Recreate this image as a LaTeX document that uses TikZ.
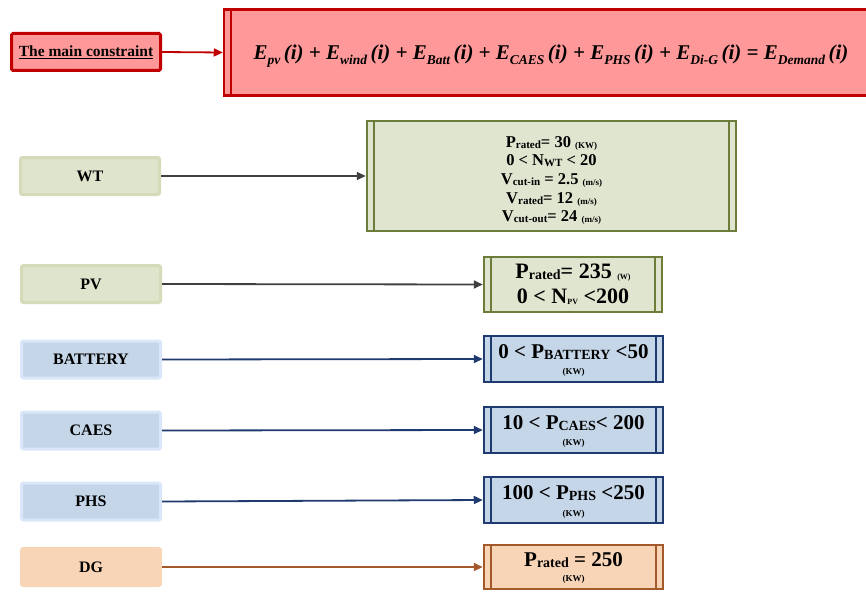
\documentclass[tikz,border=0pt]{standalone}
\usepackage{fontspec}
\setmainfont{Liberation Serif}
\usetikzlibrary{arrows.meta}
\definecolor{dred}{HTML}{C00000}
\definecolor{pinkf}{HTML}{FF9999}
\definecolor{olive}{HTML}{6B7D38}
\definecolor{olivef}{HTML}{E0E5CF}
\definecolor{wtb}{HTML}{D3DBB9}
\definecolor{wtf}{HTML}{DFE4CC}
\definecolor{navy}{HTML}{1F3A6E}
\definecolor{bluef}{HTML}{C5D6E8}
\definecolor{blueb}{HTML}{DAE6F9}
\definecolor{brn}{HTML}{A3592A}
\definecolor{dgf}{HTML}{F8D5B6}
\definecolor{arrg}{HTML}{404040}
\newcommand{\lsub}[2]{\raisebox{-1pt}{\fontsize{#1}{#1}\selectfont #2}}
\newcommand{\esub}[1]{\raisebox{-4.5pt}{\fontsize{13.5}{13.5}\selectfont #1}}
\tikzset{
  x=1pt, y=-1pt,
  srcbox/.style={rounded corners=2pt, line width=3pt, inner sep=0pt,
    font=\bfseries\fontsize{16}{18}\selectfont, minimum width=139pt, minimum height=37pt},
  parbox/.style={line width=2.5pt, inner sep=0pt, align=center,
    path picture={\draw[line width=1.5pt,#1]
      ([xshift=7pt]path picture bounding box.north west) -- ([xshift=7pt]path picture bounding box.south west)
      ([xshift=-7pt]path picture bounding box.north east) -- ([xshift=-7pt]path picture bounding box.south east);}},
  conn/.style={line width=1.8pt, -{Triangle[length=9pt,width=8pt]}},
  kw/.style={font=\bfseries\fontsize{9}{9}\selectfont},
}
\begin{document}
\begin{tikzpicture}
\useasboundingbox (0,0) rectangle (866,591);
\clip (0,0) rectangle (866,591);
% main constraint
\node[draw=dred, fill=pinkf, line width=3pt, rounded corners=1.5pt, minimum width=149pt, minimum height=37pt, inner sep=0pt,
  font=\bfseries\fontsize{15.5}{17}\selectfont] (mc) at (86,52) {\underline{The main constraint}};
\node[draw=dred, fill=pinkf, line width=3pt, minimum width=651pt, minimum height=86pt, inner sep=0pt, parbox=dred] (eq) at (549.5,52.5) {};
\node (eqt) at (551,56) {\bfseries\itshape\fontsize{21}{23}\selectfont
  E\esub{pv}\,(i) + E\esub{wind}\,(i) + E\esub{Batt}\,(i) + E\esub{CAES}\,(i) + E\esub{PHS}\,(i) + E\esub{Di-G}\,(i) = E\esub{Demand}\,(i)};
\draw[conn, dred] (mc.east) -- (eq.west);

% WT
\node[srcbox, draw=wtb, fill=wtf] (wt) at (90,176) {WT};
\node[parbox=olive, draw=olive, fill=olivef, minimum width=369pt, minimum height=110pt] (wtp) at (551.5,176) {};
\node[align=center, font=\bfseries\fontsize{16.5}{18.7}\selectfont] (wtt) at (551.5,180.5)
  {P\lsub{11}{rated}= 30 \lsub{9}{(KW)}\\
   0 < N\lsub{11}{WT} < 20\\
   V\lsub{11}{cut-in} = 2.5 \lsub{9}{(m/s)}\\
   V\lsub{11}{rated}= 12 \lsub{9}{(m/s)}\\
   V\lsub{11}{cut-out}= 24 \lsub{9}{(m/s)}};
\draw[conn, arrg] (wt.east) -- (wtp.west |- wt.east);

% PV
\node[srcbox, draw=wtb, fill=wtf] (pv) at (91,284) {PV};
\node[parbox=olive, draw=olive, fill=olivef, minimum width=178pt, minimum height=55pt,
  font=\bfseries\fontsize{22}{25}\selectfont] (pvp) at (573,284.5)
  {P\lsub{14}{rated}= 235 \lsub{8}{(W)}\\
   0 < N\lsub{8}{PV} <200};
\draw[conn, arrg] (pv.east) -- (pvp.west);

% BATTERY
\node[srcbox, draw=blueb, fill=bluef] (bat) at (91,359.5) {BATTERY};
\node[parbox=navy, draw=navy, fill=bluef, minimum width=179pt, minimum height=46pt] (batp) at (573.5,359) {};
\node (batt) at (573.5,352) {\bfseries\fontsize{21}{21}\selectfont 0 < P\lsub{14}{BATTERY} <50};
\node[kw] (batk) at (573.5,372) {(KW)};
\draw[conn, navy] (bat.east) -- (batp.west);

% CAES
\node[srcbox, draw=blueb, fill=bluef] (caes) at (91,430.5) {CAES};
\node[parbox=navy, draw=navy, fill=bluef, minimum width=179pt, minimum height=46pt] (caesp) at (573.5,430) {};
\node (caest) at (573.5,423) {\bfseries\fontsize{21}{21}\selectfont 10 < P\lsub{14}{CAES}< 200};
\node[kw] (caesk) at (573.5,443) {(KW)};
\draw[conn, navy] (caes.east) -- (caesp.west);

% PHS
\node[srcbox, draw=blueb, fill=bluef] (phs) at (91,501.5) {PHS};
\node[parbox=navy, draw=navy, fill=bluef, minimum width=179pt, minimum height=46pt] (phsp) at (573.5,500) {};
\node (phst) at (573.5,493.5) {\bfseries\fontsize{21}{21}\selectfont 100 < P\lsub{14}{PHS} <250};
\node[kw] (phsk) at (573.5,514) {(KW)};
\draw[conn, navy] (phs.east) -- (phsp.west);

% DG
\node[srcbox, draw=dgf, fill=dgf] (dg) at (91,567) {DG};
\node[parbox=brn, draw=brn, fill=dgf, minimum width=179pt, minimum height=44pt] (dgp) at (573.5,567) {};
\node (dgt) at (573.5,560) {\bfseries\fontsize{21}{21}\selectfont P\lsub{14}{rated} = 250};
\node[kw] (dgk) at (573.5,579) {(KW)};
\draw[conn, brn] (dg.east) -- (dgp.west);
\end{tikzpicture}
\end{document}
